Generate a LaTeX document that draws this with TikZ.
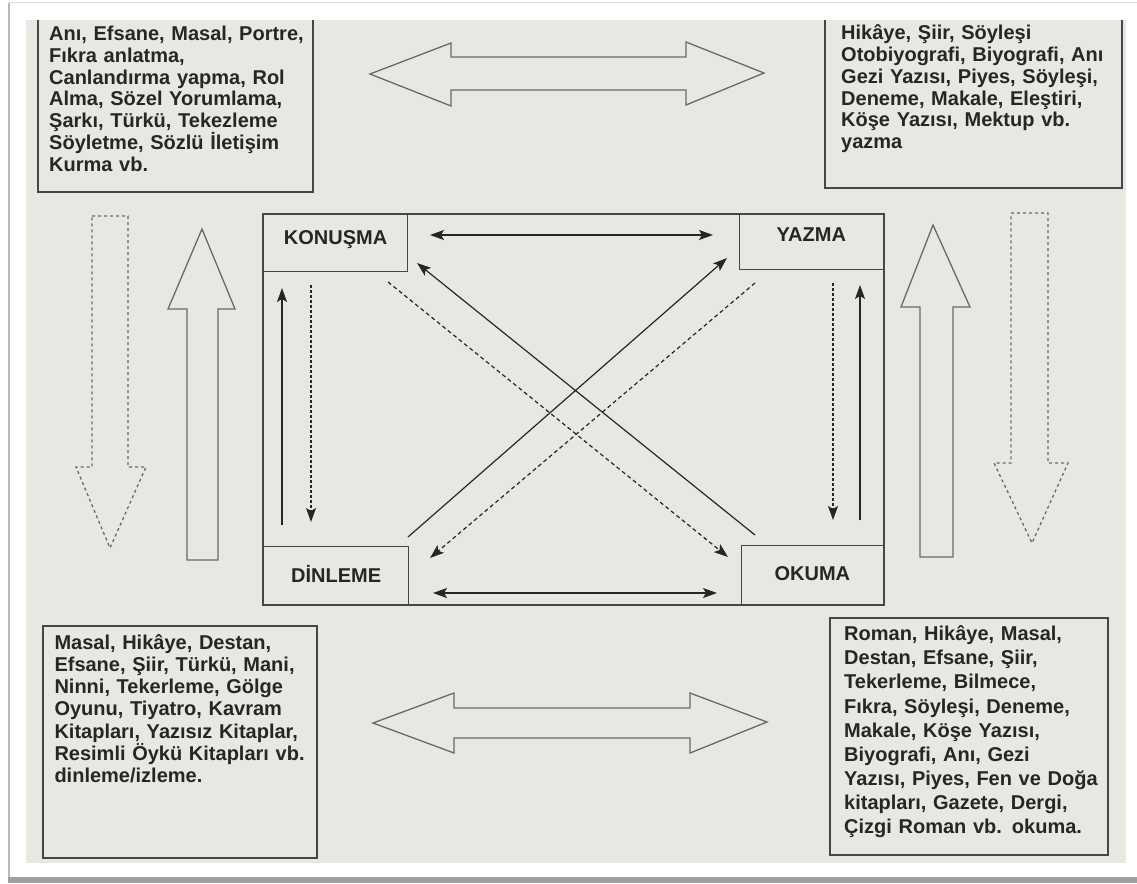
\documentclass[tikz,border=0pt]{standalone}
\usepackage{fontspec}
\setmainfont{Liberation Sans}
\usetikzlibrary{arrows.meta}
\definecolor{page}{RGB}{232,232,226}
\definecolor{ink}{RGB}{38,38,38}
\definecolor{lin}{RGB}{70,70,70}
\definecolor{blk}{RGB}{105,105,105}
\begin{document}
\begin{tikzpicture}[x=1pt,y=-1pt,
  ahead/.tip={Stealth[length=14pt,width=10pt,inset=3pt]},
  txt/.style={anchor=base west, inner sep=0pt, text width=330pt, align=left,
    font={\fontsize{20}{#1}\selectfont\bfseries\lineskiplimit=-50pt}, text=ink},
  boxline/.style={draw=lin, line width=1.3pt},
  lbox/.style={draw=lin, line width=1.3pt, inner sep=0pt,
    font={\fontsize{20}{24}\selectfont\bfseries}, text=ink},
  conn/.style={draw=ink, line width=1.2pt, -ahead},
  conntwo/.style={draw=ink, line width=1.2pt, ahead-ahead},
  dconn/.style={conn, dash pattern=on 4pt off 3pt},
  vdot/.style={conn, dash pattern=on 3pt off 2pt},
  blockarrow/.style={draw=blk, line width=1.3pt, line join=miter},
  dblock/.style={blockarrow, dash pattern=on 3pt off 3pt}
]
\useasboundingbox (0,0) rectangle (1137,883);
% page / scan frame
\fill[white] (0,0) rectangle (1137,883);
\fill[page] (26,20) rectangle (1126,863);
\draw[gray!55, line width=1.5pt] (9,3) -- (9,877);
\draw[gray!25, line width=1pt] (9,3) -- (1137,3);
\fill[gray!75] (8,877) rectangle (1137,883);

% corner text boxes
\draw[boxline] (38,20) -- (38,192) -- (313,192) -- (313,20);
\draw[boxline] (825,20) -- (825,188) -- (1122,188) -- (1122,20);
\draw[boxline] (43,626) rectangle (317,858);
\draw[boxline] (830,618) rectangle (1108,855);

\node[txt=21.8] (tl) at (49,40.5) {Anı, Efsane, Masal, Portre,\\Fıkra anlatma,\\Canlandırma yapma, Rol\\Alma, Sözel Yorumlama,\\Şarkı, Türkü, Tekezleme\\Söyletme, Sözlü İletişim\\Kurma vb.};
\node[txt=21.9] (tr) at (841,39.3) {Hikâye, Şiir, Söyleşi\\Otobiyografi, Biyografi, Anı\\Gezi Yazısı, Piyes, Söyleşi,\\Deneme, Makale, Eleştiri,\\Köşe Yazısı, Mektup vb.\\yazma};
\node[txt=22.2] (bl) at (54.3,649.3) {Masal, Hikâye, Destan,\\Efsane, Şiir, Türkü, Mani,\\Ninni, Tekerleme, Gölge\\Oyunu, Tiyatro, Kavram\\Kitapları, Yazısız Kitaplar,\\Resimli Öykü Kitapları vb.\\dinleme/izleme.};
\node[txt=24.1] (br) at (844,640.7) {Roman, Hikâye, Masal,\\Destan, Efsane, Şiir,\\Tekerleme, Bilmece,\\Fıkra, Söyleşi, Deneme,\\Makale, Köşe Yazısı,\\Biyografi, Anı, Gezi\\Yazısı, Piyes, Fen ve Doğa\\kitapları, Gazete, Dergi,\\Çizgi Roman vb. okuma.};

% block arrows
\draw[dblock] (92,216) -- (128,216) -- (128,467) -- (146,467) -- (110,548) -- (76,467) -- (92,467) -- cycle;
\draw[blockarrow] (187,560) -- (218,560) -- (218,309) -- (235,309) -- (202,229) -- (168,309) -- (187,309) -- cycle;
\draw[blockarrow] (920,557) -- (953,557) -- (953,307) -- (970,307) -- (933,225) -- (901,307) -- (920,307) -- cycle;
\draw[dblock] (1011,213) -- (1048,213) -- (1048,463) -- (1068,463) -- (1032,543) -- (994,463) -- (1011,463) -- cycle;
\draw[blockarrow] (370,74) -- (451,43) -- (451,57) -- (686,57) -- (686,42) -- (764,73) -- (686,105) -- (686,90) -- (451,90) -- (451,106) -- cycle;
\draw[blockarrow] (373,723) -- (454,693) -- (454,708) -- (690,708) -- (690,693) -- (767,722) -- (690,753) -- (690,738) -- (454,738) -- (454,753) -- cycle;

% central frame and skill boxes
\draw[boxline] (263,214) rectangle (884,605);
\node[lbox, anchor=north west, minimum width=144pt, text height=30pt, text depth=27pt] (kon) at (263,214) {KONUŞMA};
\node[lbox, anchor=north east, minimum width=144pt, text height=26.7pt, text depth=28.3pt] (yaz) at (884,214) {YAZMA};
\node[lbox, anchor=south west, minimum width=145pt, text height=35.7pt, text depth=22.3pt] (din) at (263,605) {DİNLEME};
\node[lbox, anchor=south east, minimum width=142pt, text height=34.7pt, text depth=24.3pt] (oku) at (884,605) {OKUMA};

% connector end points
\coordinate (kyA) at (430,235);  \coordinate (kyB) at (713,235);
\coordinate (doA) at (433,593);  \coordinate (doB) at (717,593);
\coordinate (lsA) at (282,525);  \coordinate (lsB) at (282,288);
\coordinate (ldA) at (311,285);  \coordinate (ldB) at (311,522);
\coordinate (rsA) at (860,520);  \coordinate (rsB) at (860,285);
\coordinate (rdA) at (833,283);  \coordinate (rdB) at (833,520);
\coordinate (okA) at (755,535);  \coordinate (okB) at (417,263);
\coordinate (dyA) at (408,537);  \coordinate (dyB) at (727,258);
\coordinate (koA) at (388,282);  \coordinate (koB) at (728,557);
\coordinate (ydA) at (755,283);  \coordinate (ydB) at (430,558);

\draw[conntwo] (kyA) -- (kyB);
\draw[conntwo] (doA) -- (doB);
\draw[conn] (lsA) -- (lsB);
\draw[vdot] (ldA) -- (ldB);
\draw[conn] (rsA) -- (rsB);
\draw[vdot] (rdA) -- (rdB);
\draw[conn] (okA) -- (okB);
\draw[conn] (dyA) -- (dyB);
\draw[dconn] (koA) -- (koB);
\draw[dconn] (ydA) -- (ydB);
\end{tikzpicture}
\end{document}
